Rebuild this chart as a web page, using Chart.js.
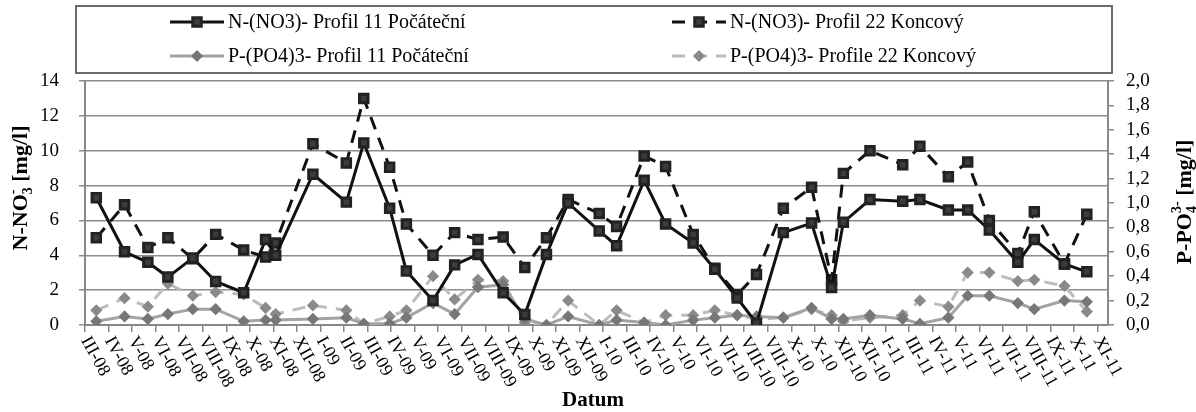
<!DOCTYPE html>
<html>
<head>
<meta charset="utf-8">
<script src="https://cdn.jsdelivr.net/npm/chart.js@4.4.1/dist/chart.umd.min.js"></script>
<style>
 html, body { margin: 0; padding: 0; background: #fff; }
 #wrap { width: 1196px; height: 412px; }
</style>
</head>
<body>
<div id="wrap"><canvas id="myChart"></canvas></div>
<script>
// tick labels of the date axis (one per tick mark)
var xLabels = ['III-08', 'IV-08', 'V-08', 'VI-08', 'VII-08', 'VIII-08', 'IX-08', 'X-08', 'XI-08', 'XII-08',
  'I-09', 'II-09', 'III-09', 'IV-09', 'V-09', 'VI-09', 'VII-09', 'VIII-09', 'IX-09', 'X-09', 'XI-09', 'XII-09',
  'I-10', 'III-10', 'IV-10', 'V-10', 'VI-10', 'VII-10', 'VIII-10', 'VIII-10', 'X-10', 'X-10', 'XII-10', 'XII-10',
  'I-11', 'III-11', 'IV-11', 'V-11', 'VI-11', 'VII-11', 'VIII-11', 'IX-11', 'X-11', 'XI-11'];

// sampling dates, in tick units (0 = III-08)
var sampleX = [0.48, 1.68, 2.67, 3.52, 4.58, 5.55, 6.74, 7.67, 8.10, 9.68,
  11.10, 11.84, 12.94, 13.65, 14.78, 15.70, 16.69, 17.76, 18.68, 19.60,
  20.52, 21.84, 22.58, 23.75, 24.66, 25.83, 26.75, 27.70, 28.52, 29.66,
  30.86, 31.71, 32.21, 33.34, 34.73, 35.46, 36.67, 37.49, 38.41, 39.62,
  40.32, 41.60, 42.55];

// N-NO3 [mg/l]
var no3Profil11 = [7.3, 4.2, 3.6, 2.75, 3.85, 2.5, 1.85, 4.9, 4.0, 8.65,
  7.05, 10.45, 6.7, 3.1, 1.4, 3.45, 4.05, 1.85, 0.6, 4.05,
  7.0, 5.4, 4.55, 8.3, 5.8, 4.7, 3.2, 1.55, 0.1, 5.3,
  5.85, 2.15, 5.9, 7.2, 7.1, 7.2, 6.6, 6.6, 5.45, 3.6,
  4.9, 3.5, 3.05];
var no3Profil22 = [5.0, 6.9, 4.45, 5.0, 3.8, 5.2, 4.3, 3.9, 4.7, 10.4,
  9.3, 13.0, 9.05, 5.8, 4.0, 5.3, 4.9, 5.05, 3.3, 5.0,
  7.2, 6.4, 5.65, 9.7, 9.1, 5.2, 3.25, 1.75, 2.9, 6.7,
  7.9, 2.6, 8.7, 10.0, 9.2, 10.25, 8.5, 9.35, 6.0, 4.1,
  6.5, 3.5, 6.35];

// P-PO4 [mg/l]
var po4Profil11 = [0.03, 0.07, 0.05, 0.09, 0.13, 0.13, 0.03, 0.04, 0.04, 0.05,
  0.06, 0.01, 0.01, 0.06, 0.18, 0.09, 0.31, 0.33, 0.05, 0.0,
  0.07, 0.0, 0.04, 0.02, 0.0, 0.04, 0.06, 0.08, 0.07, 0.06,
  0.14, 0.05, 0.05, 0.08, 0.05, 0.01, 0.06, 0.24, 0.24, 0.18,
  0.13, 0.2, 0.19];
var po4Profil22 = [0.12, 0.22, 0.15, 0.34, 0.24, 0.27, 0.25, 0.14, 0.09, 0.16,
  0.12, 0.01, 0.07, 0.12, 0.4, 0.21, 0.37, 0.36, 0.02, 0.0,
  0.2, 0.0, 0.12, 0.02, 0.08, 0.08, 0.12, 0.08, 0.05, 0.06,
  0.13, 0.08, 0.03, 0.06, 0.08, 0.2, 0.15, 0.43, 0.43, 0.36,
  0.37, 0.32, 0.11];

var serif = '"Liberation Serif", "Times New Roman", serif';

function toPoints(vals) {
  return vals.map(function (v, i) { return { x: sampleX[i], y: v }; });
}

// legend in a framed box above the plot
var legendBox = {
  id: 'legendBox',
  afterDraw: function (chart) {
    var ctx = chart.ctx;
    ctx.save();
    ctx.strokeStyle = '#6b6b6b';
    ctx.lineWidth = 2;
    ctx.strokeRect(76, 6, 1036, 67);
    var slots = [[170, 22], [672, 22], [170, 56], [672, 56]];
    chart.data.datasets.forEach(function (ds, i) {
      var sx = slots[i][0], sy = slots[i][1];
      ctx.strokeStyle = ds.borderColor;
      ctx.lineWidth = ds.borderWidth;
      ctx.setLineDash(ds.borderDash || []);
      ctx.beginPath();
      ctx.moveTo(sx, sy);
      ctx.lineTo(sx + 54, sy);
      ctx.stroke();
      ctx.setLineDash([]);
      ctx.fillStyle = ds.pointBackgroundColor;
      ctx.strokeStyle = ds.pointBorderColor;
      Chart.helpers.drawPoint(ctx, { pointStyle: ds.pointStyle, radius: ds.pointRadius, rotation: 0, borderWidth: 1 }, sx + 27, sy);
      ctx.fillStyle = '#000';
      ctx.font = '20px ' + serif;
      ctx.textAlign = 'left';
      ctx.textBaseline = 'middle';
      ctx.fillText(ds.label, sx + 58, sy + 1);
    });
    ctx.restore();
  }
};

// text with stacked subscript / superscript
function drawRich(ctx, parts, cx, cy, rot) {
  ctx.save();
  ctx.translate(cx, cy);
  ctx.rotate(rot);
  ctx.textBaseline = 'alphabetic';
  ctx.textAlign = 'left';
  var big = 'bold 22px ' + serif, small = 'bold 14px ' + serif;
  var w = 0;
  parts.forEach(function (p) {
    if (p.t) { ctx.font = big; w += ctx.measureText(p.t).width; }
    else { ctx.font = small; w += Math.max(ctx.measureText(p.sub).width, ctx.measureText(p.sup).width); }
  });
  var x = -w / 2;
  parts.forEach(function (p) {
    if (p.t) {
      ctx.font = big;
      ctx.fillText(p.t, x, 7);
      x += ctx.measureText(p.t).width;
    } else {
      ctx.font = small;
      ctx.fillText(p.sub, x, 12);
      ctx.fillText(p.sup, x, -3);
      x += Math.max(ctx.measureText(p.sub).width, ctx.measureText(p.sup).width);
    }
  });
  ctx.restore();
}

var axisText = {
  id: 'axisText',
  afterDraw: function (chart) {
    var ctx = chart.ctx;
    var xs = chart.scales.x;
    ctx.save();
    ctx.fillStyle = '#000';
    // slanted date labels
    ctx.font = '18px ' + serif;
    ctx.textAlign = 'left';
    ctx.textBaseline = 'middle';
    xLabels.forEach(function (lab, i) {
      var px = xs.getPixelForValue(i);
      ctx.save();
      ctx.translate(px, xs.top + 13);
      ctx.rotate(Math.PI * 0.34);
      ctx.fillText(lab, 0, 0);
      ctx.restore();
    });
    ctx.font = 'bold 21px ' + serif;
    ctx.textAlign = 'center';
    ctx.textBaseline = 'middle';
    ctx.fillText('Datum', 593, 401);
    ctx.restore();
    drawRich(ctx, [{ t: 'N-NO' }, { sub: '3', sup: '-' }, { t: ' [mg/l]' }], 20, 188, -Math.PI / 2);
    drawRich(ctx, [{ t: 'P-PO' }, { sub: '4', sup: '3-' }, { t: ' [mg/l]' }], 1184, 202, -Math.PI / 2);
  }
};

var ctx = document.getElementById('myChart').getContext('2d');
window.myChart = new Chart(ctx, {
  type: 'line',
  data: {
    datasets: [{
      label: 'N-(NO3)- Profil 11 Počáteční',
      data: toPoints(no3Profil11),
      yAxisID: 'y',
      borderColor: '#111',
      borderWidth: 3,
      pointStyle: 'rect',
      pointRadius: 6,
      pointBackgroundColor: '#3c3c3c',
      pointBorderColor: '#222'
    }, {
      label: 'N-(NO3)- Profil 22 Koncový',
      data: toPoints(no3Profil22),
      yAxisID: 'y',
      borderColor: '#111',
      borderWidth: 3,
      borderDash: [13, 9],
      pointStyle: 'rect',
      pointRadius: 6,
      pointBackgroundColor: '#3c3c3c',
      pointBorderColor: '#222'
    }, {
      label: 'P-(PO4)3- Profil 11 Počáteční',
      data: toPoints(po4Profil11),
      yAxisID: 'y2',
      borderColor: '#a3a3a3',
      borderWidth: 3,
      pointStyle: 'rectRot',
      pointRadius: 4,
      pointBackgroundColor: '#777',
      pointBorderColor: '#777'
    }, {
      label: 'P-(PO4)3- Profile 22 Koncový',
      data: toPoints(po4Profil22),
      yAxisID: 'y2',
      borderColor: '#bcbcbc',
      borderWidth: 3,
      borderDash: [13, 9],
      pointStyle: 'rectRot',
      pointRadius: 4,
      pointBackgroundColor: '#8a8a8a',
      pointBorderColor: '#8a8a8a'
    }]
  },
  options: {
    responsive: true,
    maintainAspectRatio: false,
    animation: false,
    layout: { padding: { top: 81, left: 0, right: 0, bottom: 0 } },
    elements: { line: { tension: 0, fill: false } },
    plugins: { legend: { display: false }, tooltip: { enabled: false } },
    scales: {
      x: {
        type: 'linear',
        min: 0,
        max: 43.45,
        afterBuildTicks: function (s) { s.ticks = xLabels.map(function (_, i) { return { value: i }; }); },
        ticks: { display: false },
        grid: { drawOnChartArea: false, tickLength: 7, color: '#888', lineWidth: 1.5 },
        border: { color: '#888', width: 2 },
        afterFit: function (s) { s.height = 87; }
      },
      y: {
        position: 'left',
        min: 0,
        max: 14,
        ticks: { stepSize: 2, autoSkip: false, color: '#000', font: { family: serif, size: 19 }, padding: 20 },
        grid: { color: '#8c8c8c', lineWidth: 1.5, tickLength: 6 },
        border: { color: '#888', width: 2 },
        afterFit: function (s) { s.width = 85; }
      },
      y2: {
        position: 'right',
        min: 0,
        max: 2,
        ticks: {
          stepSize: 0.2, autoSkip: false, color: '#000', font: { family: serif, size: 19 }, padding: 12,
          callback: function (v) { return v.toFixed(1).replace('.', ','); }
        },
        grid: { drawOnChartArea: false, tickLength: 6, color: '#888', lineWidth: 1.5 },
        border: { color: '#888', width: 2 },
        afterFit: function (s) { s.width = 88; }
      }
    }
  },
  plugins: [legendBox, axisText]
});
</script>
</body>
</html>
